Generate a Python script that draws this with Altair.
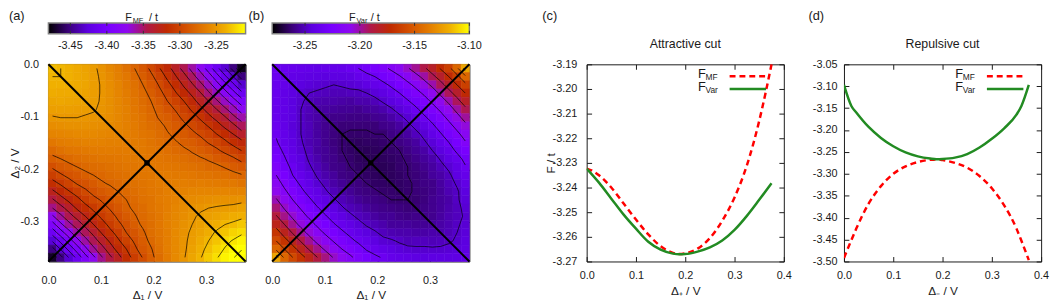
import altair as alt
import pandas as pd

FONT = "Liberation Sans"
INK = "#1a1a1a"
TICK = 5

PALETTE = ["#000000", "#3a0078", "#5c00e0", "#7800ff", "#8e08ee", "#b01848",
           "#c02a00", "#d45200", "#e47e00", "#f0b000", "#ffff00"]

# ---------------- data: 2D maps (rows from Delta2 = 0 downwards, columns Delta1 from 0) ----------------
GRID_N = 24
GRID_SPAN = 0.375

MF_GRID = [
    [-3.233, -3.235, -3.237, -3.240, -3.244, -3.248, -3.253, -3.259, -3.264, -3.272, -3.280, -3.288, -3.298, -3.309, -3.320, -3.332, -3.346, -3.360, -3.375, -3.392, -3.410, -3.429, -3.451, -3.474],
    [-3.235, -3.235, -3.237, -3.240, -3.243, -3.247, -3.252, -3.257, -3.263, -3.268, -3.276, -3.284, -3.292, -3.302, -3.313, -3.324, -3.335, -3.349, -3.363, -3.377, -3.394, -3.412, -3.430, -3.451],
    [-3.237, -3.237, -3.238, -3.240, -3.243, -3.247, -3.251, -3.256, -3.261, -3.267, -3.272, -3.280, -3.288, -3.296, -3.306, -3.316, -3.327, -3.338, -3.351, -3.364, -3.379, -3.395, -3.412, -3.430],
    [-3.239, -3.240, -3.240, -3.241, -3.244, -3.247, -3.251, -3.255, -3.260, -3.265, -3.271, -3.276, -3.284, -3.292, -3.299, -3.309, -3.319, -3.328, -3.339, -3.353, -3.365, -3.379, -3.395, -3.411],
    [-3.243, -3.242, -3.243, -3.244, -3.245, -3.248, -3.251, -3.255, -3.259, -3.264, -3.269, -3.275, -3.280, -3.287, -3.295, -3.302, -3.310, -3.320, -3.330, -3.340, -3.353, -3.365, -3.378, -3.393],
    [-3.246, -3.246, -3.246, -3.247, -3.248, -3.249, -3.252, -3.255, -3.259, -3.263, -3.268, -3.273, -3.278, -3.283, -3.290, -3.296, -3.303, -3.312, -3.321, -3.330, -3.340, -3.352, -3.363, -3.377],
    [-3.251, -3.250, -3.250, -3.250, -3.251, -3.252, -3.253, -3.256, -3.259, -3.263, -3.267, -3.271, -3.276, -3.281, -3.284, -3.291, -3.298, -3.304, -3.312, -3.321, -3.329, -3.338, -3.351, -3.361],
    [-3.256, -3.255, -3.254, -3.254, -3.254, -3.255, -3.256, -3.257, -3.260, -3.263, -3.266, -3.270, -3.274, -3.277, -3.282, -3.286, -3.292, -3.298, -3.304, -3.311, -3.319, -3.328, -3.336, -3.348],
    [-3.261, -3.260, -3.259, -3.258, -3.258, -3.258, -3.259, -3.260, -3.261, -3.263, -3.266, -3.269, -3.271, -3.275, -3.279, -3.283, -3.286, -3.292, -3.297, -3.302, -3.310, -3.317, -3.325, -3.334],
    [-3.268, -3.265, -3.264, -3.263, -3.262, -3.262, -3.262, -3.263, -3.263, -3.264, -3.266, -3.267, -3.270, -3.273, -3.276, -3.279, -3.283, -3.285, -3.290, -3.296, -3.300, -3.307, -3.315, -3.321],
    [-3.276, -3.272, -3.269, -3.268, -3.267, -3.266, -3.266, -3.265, -3.266, -3.266, -3.265, -3.267, -3.269, -3.271, -3.273, -3.276, -3.278, -3.281, -3.284, -3.288, -3.293, -3.298, -3.303, -3.310],
    [-3.283, -3.280, -3.276, -3.273, -3.272, -3.271, -3.269, -3.269, -3.268, -3.267, -3.267, -3.267, -3.268, -3.269, -3.271, -3.272, -3.274, -3.277, -3.279, -3.281, -3.286, -3.289, -3.293, -3.299],
    [-3.293, -3.287, -3.284, -3.280, -3.277, -3.275, -3.274, -3.272, -3.270, -3.269, -3.269, -3.268, -3.267, -3.268, -3.268, -3.269, -3.271, -3.272, -3.274, -3.277, -3.277, -3.281, -3.285, -3.288],
    [-3.304, -3.297, -3.291, -3.288, -3.283, -3.280, -3.278, -3.275, -3.273, -3.272, -3.270, -3.269, -3.268, -3.266, -3.266, -3.267, -3.267, -3.268, -3.270, -3.270, -3.272, -3.273, -3.276, -3.279],
    [-3.315, -3.308, -3.301, -3.294, -3.291, -3.286, -3.281, -3.279, -3.277, -3.274, -3.272, -3.270, -3.268, -3.266, -3.265, -3.264, -3.264, -3.265, -3.264, -3.265, -3.266, -3.267, -3.267, -3.270],
    [-3.328, -3.319, -3.311, -3.304, -3.297, -3.292, -3.287, -3.283, -3.280, -3.277, -3.274, -3.271, -3.268, -3.267, -3.264, -3.262, -3.262, -3.260, -3.260, -3.260, -3.260, -3.260, -3.261, -3.261],
    [-3.342, -3.331, -3.322, -3.314, -3.305, -3.298, -3.294, -3.288, -3.283, -3.280, -3.276, -3.272, -3.270, -3.266, -3.264, -3.262, -3.258, -3.257, -3.256, -3.255, -3.254, -3.254, -3.254, -3.253],
    [-3.355, -3.345, -3.334, -3.323, -3.315, -3.307, -3.299, -3.294, -3.288, -3.282, -3.278, -3.275, -3.270, -3.267, -3.264, -3.260, -3.257, -3.254, -3.252, -3.250, -3.249, -3.248, -3.247, -3.245],
    [-3.372, -3.358, -3.346, -3.335, -3.325, -3.316, -3.307, -3.299, -3.293, -3.286, -3.281, -3.276, -3.272, -3.268, -3.263, -3.259, -3.256, -3.252, -3.248, -3.246, -3.244, -3.242, -3.239, -3.238],
    [-3.391, -3.373, -3.359, -3.348, -3.336, -3.325, -3.316, -3.306, -3.297, -3.292, -3.284, -3.278, -3.274, -3.268, -3.263, -3.259, -3.254, -3.250, -3.246, -3.242, -3.239, -3.235, -3.233, -3.229],
    [-3.409, -3.392, -3.375, -3.360, -3.348, -3.336, -3.324, -3.314, -3.305, -3.295, -3.289, -3.282, -3.274, -3.269, -3.264, -3.258, -3.253, -3.248, -3.244, -3.239, -3.233, -3.230, -3.225, -3.222],
    [-3.428, -3.411, -3.393, -3.375, -3.360, -3.347, -3.334, -3.323, -3.312, -3.302, -3.293, -3.285, -3.277, -3.270, -3.264, -3.258, -3.252, -3.247, -3.241, -3.235, -3.230, -3.223, -3.219, -3.214],
    [-3.450, -3.429, -3.411, -3.393, -3.374, -3.358, -3.346, -3.332, -3.320, -3.310, -3.298, -3.288, -3.281, -3.272, -3.264, -3.258, -3.252, -3.245, -3.238, -3.232, -3.225, -3.219, -3.212, -3.206],
    [-3.471, -3.450, -3.429, -3.410, -3.391, -3.373, -3.356, -3.343, -3.330, -3.316, -3.305, -3.294, -3.283, -3.275, -3.266, -3.258, -3.251, -3.243, -3.236, -3.228, -3.221, -3.214, -3.206, -3.198],
]

VAR_GRID = [
    [-3.234, -3.236, -3.237, -3.238, -3.239, -3.240, -3.239, -3.239, -3.238, -3.235, -3.233, -3.229, -3.225, -3.221, -3.216, -3.211, -3.204, -3.198, -3.190, -3.182, -3.172, -3.162, -3.146, -3.122],
    [-3.235, -3.238, -3.240, -3.241, -3.242, -3.243, -3.244, -3.243, -3.243, -3.242, -3.238, -3.236, -3.233, -3.228, -3.224, -3.219, -3.213, -3.206, -3.200, -3.191, -3.183, -3.173, -3.162, -3.146],
    [-3.236, -3.239, -3.242, -3.244, -3.245, -3.246, -3.247, -3.248, -3.247, -3.246, -3.245, -3.242, -3.239, -3.236, -3.231, -3.226, -3.221, -3.215, -3.207, -3.201, -3.192, -3.183, -3.173, -3.162],
    [-3.236, -3.240, -3.243, -3.246, -3.248, -3.249, -3.250, -3.251, -3.251, -3.250, -3.250, -3.248, -3.245, -3.242, -3.238, -3.233, -3.228, -3.222, -3.216, -3.208, -3.201, -3.192, -3.183, -3.173],
    [-3.236, -3.240, -3.244, -3.247, -3.250, -3.252, -3.253, -3.253, -3.254, -3.255, -3.253, -3.253, -3.251, -3.247, -3.244, -3.240, -3.234, -3.229, -3.223, -3.216, -3.208, -3.201, -3.192, -3.182],
    [-3.237, -3.240, -3.244, -3.248, -3.251, -3.254, -3.255, -3.256, -3.257, -3.257, -3.258, -3.256, -3.255, -3.253, -3.249, -3.245, -3.241, -3.235, -3.229, -3.223, -3.216, -3.208, -3.200, -3.191],
    [-3.236, -3.241, -3.244, -3.248, -3.252, -3.254, -3.257, -3.259, -3.259, -3.260, -3.260, -3.260, -3.258, -3.257, -3.254, -3.250, -3.246, -3.241, -3.235, -3.229, -3.223, -3.215, -3.207, -3.199],
    [-3.235, -3.240, -3.245, -3.248, -3.251, -3.255, -3.258, -3.260, -3.262, -3.262, -3.262, -3.262, -3.262, -3.259, -3.258, -3.255, -3.250, -3.246, -3.241, -3.235, -3.228, -3.222, -3.214, -3.206],
    [-3.234, -3.239, -3.244, -3.248, -3.251, -3.255, -3.258, -3.261, -3.263, -3.264, -3.264, -3.264, -3.263, -3.263, -3.260, -3.258, -3.255, -3.250, -3.246, -3.240, -3.234, -3.227, -3.221, -3.213],
    [-3.232, -3.238, -3.242, -3.247, -3.252, -3.254, -3.258, -3.261, -3.263, -3.265, -3.266, -3.265, -3.265, -3.264, -3.263, -3.260, -3.258, -3.255, -3.249, -3.245, -3.239, -3.233, -3.226, -3.219],
    [-3.229, -3.235, -3.241, -3.246, -3.250, -3.255, -3.257, -3.260, -3.263, -3.265, -3.266, -3.267, -3.266, -3.265, -3.264, -3.263, -3.260, -3.257, -3.254, -3.248, -3.244, -3.238, -3.231, -3.225],
    [-3.226, -3.232, -3.239, -3.244, -3.249, -3.253, -3.257, -3.259, -3.262, -3.264, -3.266, -3.267, -3.267, -3.266, -3.265, -3.264, -3.262, -3.259, -3.256, -3.253, -3.247, -3.242, -3.237, -3.230],
    [-3.222, -3.230, -3.235, -3.242, -3.247, -3.251, -3.255, -3.259, -3.260, -3.263, -3.265, -3.266, -3.267, -3.267, -3.266, -3.264, -3.263, -3.261, -3.258, -3.255, -3.251, -3.246, -3.241, -3.234],
    [-3.218, -3.225, -3.233, -3.238, -3.244, -3.249, -3.253, -3.256, -3.260, -3.261, -3.263, -3.265, -3.266, -3.267, -3.266, -3.265, -3.263, -3.262, -3.260, -3.256, -3.254, -3.250, -3.243, -3.238],
    [-3.213, -3.221, -3.228, -3.235, -3.240, -3.246, -3.250, -3.254, -3.257, -3.260, -3.261, -3.263, -3.265, -3.265, -3.266, -3.265, -3.264, -3.262, -3.260, -3.259, -3.255, -3.251, -3.247, -3.241],
    [-3.208, -3.216, -3.223, -3.230, -3.237, -3.241, -3.247, -3.251, -3.254, -3.257, -3.260, -3.261, -3.262, -3.264, -3.264, -3.265, -3.264, -3.262, -3.261, -3.259, -3.256, -3.252, -3.249, -3.244],
    [-3.202, -3.210, -3.218, -3.225, -3.231, -3.238, -3.242, -3.247, -3.251, -3.254, -3.257, -3.259, -3.260, -3.261, -3.263, -3.263, -3.263, -3.263, -3.261, -3.258, -3.256, -3.254, -3.249, -3.245],
    [-3.195, -3.204, -3.212, -3.219, -3.226, -3.232, -3.238, -3.242, -3.247, -3.251, -3.253, -3.256, -3.258, -3.259, -3.260, -3.261, -3.262, -3.262, -3.260, -3.258, -3.256, -3.253, -3.250, -3.246],
    [-3.187, -3.197, -3.205, -3.213, -3.220, -3.226, -3.232, -3.238, -3.242, -3.246, -3.250, -3.252, -3.255, -3.257, -3.257, -3.259, -3.260, -3.259, -3.259, -3.258, -3.255, -3.252, -3.250, -3.247],
    [-3.178, -3.188, -3.198, -3.206, -3.213, -3.220, -3.226, -3.232, -3.237, -3.241, -3.245, -3.249, -3.251, -3.253, -3.256, -3.256, -3.256, -3.257, -3.257, -3.256, -3.254, -3.252, -3.249, -3.246],
    [-3.167, -3.179, -3.189, -3.198, -3.206, -3.213, -3.220, -3.225, -3.231, -3.236, -3.240, -3.244, -3.247, -3.250, -3.252, -3.253, -3.253, -3.254, -3.254, -3.253, -3.253, -3.251, -3.248, -3.245],
    [-3.158, -3.168, -3.179, -3.189, -3.198, -3.206, -3.212, -3.219, -3.224, -3.230, -3.235, -3.238, -3.243, -3.246, -3.247, -3.249, -3.251, -3.250, -3.250, -3.251, -3.250, -3.249, -3.247, -3.244],
    [-3.146, -3.158, -3.168, -3.179, -3.189, -3.197, -3.205, -3.211, -3.218, -3.223, -3.228, -3.234, -3.237, -3.240, -3.243, -3.245, -3.246, -3.247, -3.247, -3.247, -3.247, -3.246, -3.245, -3.243],
    [-3.122, -3.146, -3.158, -3.168, -3.178, -3.188, -3.196, -3.204, -3.210, -3.216, -3.222, -3.227, -3.231, -3.234, -3.238, -3.240, -3.241, -3.243, -3.244, -3.243, -3.243, -3.243, -3.242, -3.240],
]

MF_RANGE = [-3.48, -3.21]
VAR_RANGE = [-3.28, -3.10]
MF_CB_TICKS = [-3.45, -3.40, -3.35, -3.30, -3.25]
VAR_CB_TICKS = [-3.25, -3.20, -3.15, -3.10]
MAP_TICKS_X = [0.0, 0.1, 0.2, 0.3]
MAP_TICKS_Y = [0.0, -0.1, -0.2, -0.3]

# contour levels of the maps
MF_LEVELS = [-3.205, -3.22, -3.235, -3.25, -3.28, -3.295, -3.31, -3.325, -3.34, -3.355,
             -3.37, -3.385, -3.40, -3.415, -3.43, -3.445, -3.46]
VAR_LEVELS = [-3.263, -3.248, -3.233, -3.218, -3.203, -3.188, -3.173, -3.158, -3.143, -3.128, -3.113]

# cut lines drawn on the maps (Delta1, Delta2)
CUT_D1 = [0.0, 0.375, 0.0, 0.375]
CUT_D2 = [0.0, -0.375, -0.375, 0.0]
CUT_ID = ["att", "att", "rep", "rep"]
SADDLE = [0.1875, -0.1875]

# ---------------- data: cuts ----------------
ATT_MF_X = [0.0, 0.0125, 0.025, 0.05, 0.075, 0.1, 0.125, 0.15, 0.175, 0.1875, 0.2, 0.225, 0.25, 0.275, 0.3, 0.325, 0.35, 0.3625, 0.375]
ATT_MF_F = [-3.2323, -3.2333, -3.2350, -3.2400, -3.2465, -3.2530, -3.2590, -3.2638, -3.2665, -3.2670, -3.2667, -3.2648, -3.2605, -3.2535, -3.2440, -3.2310, -3.2130, -3.2020, -3.1900]
ATT_VAR_X = [0.0, 0.025, 0.05, 0.075, 0.1, 0.125, 0.15, 0.175, 0.1875, 0.2, 0.225, 0.25, 0.275, 0.3, 0.325, 0.35, 0.375]
ATT_VAR_F = [-3.2323, -3.2380, -3.2445, -3.2510, -3.2567, -3.2620, -3.2652, -3.2668, -3.2671, -3.2670, -3.2660, -3.2643, -3.2615, -3.2572, -3.2515, -3.2450, -3.2383]

REP_MF_X = [0.0, 0.0125, 0.025, 0.05, 0.075, 0.1, 0.125, 0.15, 0.175, 0.1875, 0.2, 0.225, 0.25, 0.275, 0.3, 0.325, 0.35, 0.3625, 0.375]
REP_MF_F = [-3.492, -3.458, -3.425, -3.368, -3.328, -3.300, -3.283, -3.273, -3.268, -3.267, -3.2685, -3.275, -3.286, -3.305, -3.333, -3.372, -3.425, -3.460, -3.497]
REP_VAR_X = [0.0, 0.015, 0.025, 0.05, 0.075, 0.1, 0.125, 0.15, 0.175, 0.1875, 0.2, 0.225, 0.25, 0.275, 0.3, 0.325, 0.35, 0.36, 0.375]
REP_VAR_F = [-3.097, -3.145, -3.160, -3.193, -3.218, -3.237, -3.251, -3.260, -3.265, -3.2665, -3.266, -3.263, -3.255, -3.240, -3.220, -3.196, -3.165, -3.145, -3.097]

ATT_Y_TICKS = [-3.27, -3.26, -3.25, -3.24, -3.23, -3.22, -3.21, -3.20, -3.19]
REP_Y_TICKS = [-3.50, -3.45, -3.40, -3.35, -3.30, -3.25, -3.20, -3.15, -3.10, -3.05]
CUT_X_TICKS = [0.0, 0.1, 0.2, 0.3, 0.4]

MINUS_FIX = "replace(datum.label, '\u2212', '-')"
CB_TOP, CB_BOT = -42, -31


def one_row():
    return alt.Data(values=[{"k": 0}])


def txt(text, x, y, size=12, align="left"):
    return alt.Chart(one_row()).mark_text(
        text=text, align=align, baseline="alphabetic", fontSize=size, font=FONT, color=INK
    ).encode(x=alt.value(x), y=alt.value(y))


def axis(orient, values, fmt, labels=True, pad=0, title=None, tx=None, ty=None):
    kw = dict(orient=orient, values=values, format=fmt, offset=-TICK, tickSize=TICK,
              tickColor=INK, tickWidth=1, domain=False, grid=False, labels=labels,
              labelPadding=pad, labelFont=FONT, labelFontSize=11, labelColor=INK,
              labelFlush=False, labelOverlap=False, labelExpr=MINUS_FIX)
    if title is None:
        kw["title"] = None
    else:
        kw.update(title=title, titleFont=FONT, titleFontSize=12, titleFontWeight="normal",
                  titleColor=INK, titleX=tx, titleY=ty, titleBaseline="alphabetic",
                  titleAlign="center")
        kw["titleAngle"] = 270 if orient in ("left", "right") else 0
    return alt.Axis(**kw)


def grid_frame(grid):
    h = GRID_SPAN / GRID_N
    rec = []
    for j, row in enumerate(grid):
        for i, v in enumerate(row):
            rec.append(dict(x0=i * h, x1=(i + 1) * h, y0=-j * h, y1=-(j + 1) * h, F=v, Fs=v))
    return pd.DataFrame(rec)


def contour_frame(grid, levels):
    """Iso-lines of the tabulated map (marching squares on the cell centres)."""
    h = GRID_SPAN / GRID_N
    n = len(grid)
    rec = []
    for j in range(n - 1):
        for i in range(n - 1):
            v = [grid[j][i], grid[j][i + 1], grid[j + 1][i + 1], grid[j + 1][i]]
            p = [((i + 0.5) * h, -(j + 0.5) * h), ((i + 1.5) * h, -(j + 0.5) * h),
                 ((i + 1.5) * h, -(j + 1.5) * h), ((i + 0.5) * h, -(j + 1.5) * h)]
            for lev in levels:
                cr = []
                for e in range(4):
                    a, b = e, (e + 1) % 4
                    if (v[a] < lev) != (v[b] < lev):
                        t = (lev - v[a]) / (v[b] - v[a])
                        cr.append((p[a][0] + t * (p[b][0] - p[a][0]), p[a][1] + t * (p[b][1] - p[a][1])))
                for s in range(0, len(cr) - 1, 2):
                    rec.append(dict(ax=cr[s][0], ay=cr[s][1], bx=cr[s + 1][0], by=cr[s + 1][1]))
    return pd.DataFrame(rec)


def colorbar(rng, ticks):
    cbs = alt.Scale(domain=rng, nice=False, zero=False)
    stops = [alt.GradientStop(offset=k / (len(PALETTE) - 1), color=c) for k, c in enumerate(PALETTE)]
    bar = alt.Chart(one_row()).mark_rect(
        fill=alt.LinearGradient(gradient="linear", stops=stops, x1=0, x2=1, y1=0, y2=0),
        stroke="#808080", strokeWidth=1.5
    ).encode(x=alt.X(datum=rng[0], scale=cbs, axis=None), x2=alt.datum(rng[1]),
             y=alt.value(CB_TOP), y2=alt.value(CB_BOT))
    tdf = pd.DataFrame({"v": ticks, "lab": [f"{t:.2f}" for t in ticks]})
    tick_top = alt.Chart(tdf).mark_rule(color="#333333", strokeWidth=1).encode(
        x=alt.X("v:Q", scale=cbs, axis=None), y=alt.value(CB_TOP), y2=alt.value(CB_TOP + 3))
    tick_bot = alt.Chart(tdf).mark_rule(color="#333333", strokeWidth=1).encode(
        x=alt.X("v:Q", scale=cbs, axis=None), y=alt.value(CB_BOT - 3), y2=alt.value(CB_BOT))
    labels = alt.Chart(tdf).mark_text(fontSize=11, font=FONT, color=INK, align="center",
                                      baseline="alphabetic").encode(
        x=alt.X("v:Q", scale=cbs, axis=None), y=alt.value(-16), text="lab:N")
    return alt.layer(bar, tick_top, tick_bot, labels)


def heat_panel(grid, rng, levels, cb_ticks, letter, sub, letter_x, dot_shape, lead_left):
    df = grid_frame(grid)
    xs = alt.Scale(domain=[0, GRID_SPAN], nice=False, zero=False)
    ys = alt.Scale(domain=[-GRID_SPAN, 0], nice=False, zero=False)
    cs = alt.Scale(domain=rng, range=PALETTE, clamp=True, interpolate="rgb")

    if lead_left:
        yax = axis("left", MAP_TICKS_Y, ".1f", pad=10, title="\u0394\u2082 / V", tx=-35, ty=100)
    else:
        yax = axis("left", MAP_TICKS_Y, ".1f", labels=False)

    cuts_df = pd.DataFrame({"d1": CUT_D1, "d2": CUT_D2, "cut": CUT_ID})
    cdf = contour_frame(grid, levels)

    rects = alt.Chart(df).mark_rect(strokeWidth=0.6).encode(
        x=alt.X("x0:Q", scale=xs, axis=axis("bottom", MAP_TICKS_X, ".1f", pad=13,
                                             title="\u0394\u2081 / V", tx=100, ty=43)),
        x2="x1:Q",
        y=alt.Y("y0:Q", scale=ys, axis=yax),
        y2="y1:Q",
        color=alt.Color("F:Q", scale=cs, legend=None),
        stroke=alt.Stroke("Fs:Q", scale=cs, legend=None),
    )
    cont = alt.Chart(cdf).mark_rule(color="#000000", strokeWidth=0.8, opacity=0.85).encode(
        x=alt.X("ax:Q", scale=xs, axis=None), y=alt.Y("ay:Q", scale=ys, axis=None),
        x2="bx:Q", y2="by:Q")
    cuts = alt.Chart(cuts_df).mark_line(color="#000000", strokeWidth=2).encode(
        x=alt.X("d1:Q", scale=xs, axis=None),
        y=alt.Y("d2:Q", scale=ys, axis=None),
        detail="cut:N",
    )
    dot = alt.Chart(pd.DataFrame({"d1": [SADDLE[0]], "d2": [SADDLE[1]]})).mark_point(
        filled=True, shape=dot_shape, size=30, color="#000000", opacity=1
    ).encode(x=alt.X("d1:Q", scale=xs, axis=None), y=alt.Y("d2:Q", scale=ys, axis=None))
    mirror = alt.Chart(cuts_df).mark_point(opacity=0).encode(
        x=alt.X("d1:Q", scale=xs, axis=axis("top", MAP_TICKS_X, ".1f", labels=False)),
        y=alt.Y("d2:Q", scale=ys, axis=axis("right", MAP_TICKS_Y, ".1f", labels=False)),
    )
    field = alt.layer(rects, cont, cuts, dot, mirror).resolve_axis(x="independent", y="independent")

    layers = [field, colorbar(rng, cb_ticks),
              txt(letter, letter_x, -44.5, size=13),
              txt("F", 78, -44, size=11),
              txt(sub, 85.5, -42, size=7.5),
              txt("/ t", 102 if sub == "MF" else 100, -44, size=11)]
    return alt.layer(*layers).resolve_scale(x="independent").resolve_axis(
        x="independent", y="independent").properties(
        width=200, height=200, view=alt.ViewBackground(stroke=INK, strokeWidth=1))


def cut_panel(mf_x, mf_f, var_x, var_f, ydom, yticks, title, letter, letter_x, xtitle, ytitle, ypad):
    xs = alt.Scale(domain=[0, 0.4], nice=False, zero=False)
    ys = alt.Scale(domain=ydom, nice=False, zero=False)
    mf_df = pd.DataFrame({"d": mf_x, "F": mf_f})
    var_df = pd.DataFrame({"d": var_x, "F": var_f})

    if ytitle:
        yax = axis("left", yticks, ".2f", pad=ypad, title=ytitle, tx=-38, ty=100)
    else:
        yax = axis("left", yticks, ".2f", pad=ypad)

    mf = alt.Chart(mf_df).mark_line(color="#ff0000", strokeWidth=2.5, strokeDash=[6, 4],
                                    interpolate="monotone", clip=True).encode(
        x=alt.X("d:Q", scale=xs, axis=axis("bottom", CUT_X_TICKS, ".1f", pad=8,
                                            title=xtitle, tx=100, ty=38)),
        y=alt.Y("F:Q", scale=ys, axis=yax),
    )
    var = alt.Chart(var_df).mark_line(color="#228b22", strokeWidth=2.5,
                                      interpolate="monotone", clip=True).encode(
        x=alt.X("d:Q", scale=xs, axis=axis("top", CUT_X_TICKS, ".1f", labels=False)),
        y=alt.Y("F:Q", scale=ys, axis=axis("right", yticks, ".2f", labels=False)),
    )
    leg_mf = alt.Chart(one_row()).mark_rule(color="#ff0000", strokeWidth=2.5, strokeDash=[6, 4]).encode(
        x=alt.value(145), x2=alt.value(182), y=alt.value(12))
    leg_var = alt.Chart(one_row()).mark_rule(color="#228b22", strokeWidth=2.5).encode(
        x=alt.value(145), x2=alt.value(182), y=alt.value(25))
    layers = [mf, var, leg_mf, leg_var,
              txt("F", 113, 14, size=13), txt("MF", 120.5, 15.5, size=8.5),
              txt("F", 113, 27.5, size=13), txt("Var", 120.5, 29, size=8.5),
              txt(title, 100, -17, size=12.5, align="center"),
              txt(letter, letter_x, -44.5, size=13)]
    return alt.layer(*layers).resolve_axis(x="independent", y="independent").properties(
        width=200, height=200, view=alt.ViewBackground(stroke=INK, strokeWidth=1))


def spacer(w):
    return alt.Chart(one_row()).mark_point(opacity=0).properties(
        width=w, height=200, view=alt.ViewBackground(stroke="transparent"))


pa = heat_panel(MF_GRID, MF_RANGE, MF_LEVELS, MF_CB_TICKS, "(a)", "MF", -40, "square", True)
pb = heat_panel(VAR_GRID, VAR_RANGE, VAR_LEVELS, VAR_CB_TICKS, "(b)", "Var", -24, "circle", False)
pc = cut_panel(ATT_MF_X, ATT_MF_F, ATT_VAR_X, ATT_VAR_F, [-3.27, -3.19], ATT_Y_TICKS,
               "Attractive cut", "(c)", -45, "\u0394\u208a / V", "F / t", 10)
pd_ = cut_panel(REP_MF_X, REP_MF_F, REP_VAR_X, REP_VAR_F, [-3.50, -3.05], REP_Y_TICKS,
                "Repulsive cut", "(d)", -36, "\u0394\u208b / V", None, 7)

chart = alt.hconcat(pa, pb, spacer(65), pc, spacer(7), pd_, spacing=27, bounds="flush").resolve_scale(
    color="independent", stroke="independent", x="independent", y="independent"
).properties(padding=0).configure(font=FONT).configure_view(stroke="transparent")

chart.save("out.html", embed_options={"renderer": "svg", "actions": False})
